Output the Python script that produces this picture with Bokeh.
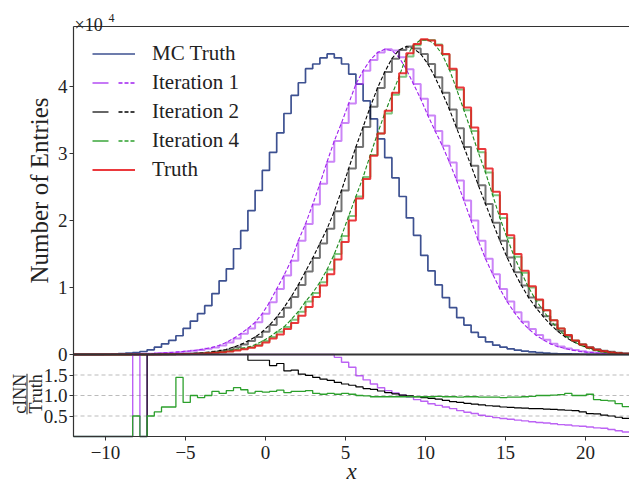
import numpy as np
from bokeh.plotting import figure
from bokeh.models import (Range1d, FixedTicker, CustomJSTickFormatter, LinearAxis, Label,
                          Legend, LegendItem, Arrow)
from bokeh.embed import file_html
from bokeh.resources import INLINE

# ---------------- data (bin contents in units of 1e4 entries) ----------------
BIN_LO = -12.35
BIN_W = 0.45

mc_truth = [0.0003, 0.0005, 0.001, 0.0015, 0.0025, 0.004, 0.007, 0.012, 0.02, 0.03,
            0.045, 0.07, 0.11, 0.16, 0.21, 0.28, 0.39, 0.50, 0.61, 0.73,
            0.91, 1.10, 1.28, 1.58, 1.85, 2.15, 2.45, 2.75, 3.02, 3.31,
            3.60, 3.87, 4.06, 4.27, 4.34, 4.43, 4.49, 4.43, 4.34, 4.19,
            4.04, 3.79, 3.52, 3.22, 2.94, 2.64, 2.36, 2.04, 1.78, 1.48,
            1.25, 1.04, 0.85, 0.70, 0.55, 0.44, 0.33, 0.26, 0.19, 0.14,
            0.11, 0.085, 0.065, 0.05, 0.038, 0.028, 0.02, 0.015, 0.011, 0.008,
            0.006, 0.004, 0.003, 0.002, 0.0015, 0.001, 0.0007, 0.0005]

iter1 = [0.0, 0.0, 0.0, 0.0005, 0.001, 0.0015, 0.002, 0.003, 0.005, 0.007,
         0.01, 0.013, 0.017, 0.022, 0.028, 0.035, 0.045, 0.055, 0.068, 0.085,
         0.105, 0.135, 0.18, 0.24, 0.31, 0.39, 0.48, 0.61, 0.78, 0.98,
         1.18, 1.40, 1.70, 1.95, 2.24, 2.55, 2.88, 3.19, 3.46, 3.75,
         4.04, 4.24, 4.40, 4.51, 4.56, 4.54, 4.44, 4.26, 4.04, 3.82,
         3.57, 3.34, 3.12, 2.87, 2.60, 2.30, 2.00, 1.70, 1.43, 1.20,
         0.98, 0.79, 0.63, 0.49, 0.38, 0.29, 0.22, 0.16, 0.12, 0.09,
         0.066, 0.048, 0.035, 0.025, 0.018, 0.012, 0.008, 0.006]

iter2 = [0.0, 0.0, 0.0, 0.0, 0.0, 0.0, 0.0, 0.0, 0.0, 0.0,
         0.0, 0.001, 0.002, 0.003, 0.005, 0.007, 0.01, 0.014, 0.02, 0.028,
         0.04, 0.055, 0.075, 0.11, 0.15, 0.20, 0.26, 0.34, 0.44, 0.56,
         0.70, 0.86, 1.04, 1.24, 1.44, 1.66, 1.88, 2.14, 2.45, 2.78,
         3.10, 3.40, 3.70, 3.98, 4.22, 4.42, 4.55, 4.60, 4.57, 4.49,
         4.34, 4.14, 3.91, 3.66, 3.38, 3.10, 2.82, 2.53, 2.25, 1.97,
         1.70, 1.45, 1.23, 1.03, 0.85, 0.70, 0.57, 0.45, 0.35, 0.27,
         0.20, 0.15, 0.11, 0.08, 0.055, 0.04, 0.028, 0.02]

iter4 = [0.0, 0.0, 0.0, 0.0, 0.0, 0.0, 0.0, 0.0, 0.0, 0.0001,
         0.0, 0.0004, 0.0007, 0.0014, 0.002, 0.006, 0.005, 0.009, 0.012, 0.018,
         0.027, 0.035, 0.05, 0.07, 0.09, 0.11, 0.145, 0.20, 0.26, 0.34,
         0.41, 0.52, 0.64, 0.79, 0.92, 1.08, 1.27, 1.50, 1.77, 2.07,
         2.36, 2.65, 2.98, 3.30, 3.60, 3.88, 4.15, 4.45, 4.62, 4.70,
         4.70, 4.63, 4.48, 4.25, 3.96, 3.65, 3.34, 3.02, 2.72, 2.38,
         2.04, 1.74, 1.46, 1.22, 1.00, 0.81, 0.66, 0.51, 0.39, 0.29,
         0.21, 0.15, 0.10, 0.065, 0.04, 0.026, 0.016, 0.009]

truth = [0.0, 0.0, 0.0, 0.0, 0.0, 0.0, 0.0, 0.0, 0.0, 0.0002,
         0.0004, 0.0008, 0.0012, 0.002, 0.003, 0.0045, 0.0065, 0.009, 0.013, 0.018,
         0.025, 0.033, 0.045, 0.06, 0.08, 0.10, 0.13, 0.18, 0.24, 0.30,
         0.38, 0.47, 0.58, 0.71, 0.86, 1.03, 1.20, 1.42, 1.68, 2.00,
         2.33, 2.62, 2.97, 3.30, 3.64, 3.91, 4.20, 4.50, 4.64, 4.71,
         4.69, 4.62, 4.49, 4.27, 3.99, 3.69, 3.39, 3.07, 2.78, 2.43,
         2.10, 1.78, 1.50, 1.25, 1.02, 0.82, 0.66, 0.51, 0.39, 0.29,
         0.21, 0.15, 0.105, 0.07, 0.047, 0.03, 0.02, 0.013]

# ratio panel (cINN / Truth); 3 = off scale (above the panel's top at 2)
ratio_iter1 = [0, 0, 0, 0, 0, 0, 0, 0, 0, 3,
               0, 3, 3, 3, 3, 3, 3, 3, 3, 3,
               3, 3, 3, 3, 3, 3, 3, 3, 3, 3,
               3, 3, 3, 3, 3, 3, 3, 1.93, 1.81, 1.69,
               1.48, 1.38, 1.28, 1.19, 1.12, 1.06, 1.01, 0.96, 0.90, 0.86,
               0.80, 0.76, 0.72, 0.68, 0.63, 0.59, 0.56, 0.52, 0.49, 0.46,
               0.44, 0.42, 0.40, 0.38, 0.36, 0.34, 0.33, 0.31, 0.29, 0.28,
               0.26, 0.25, 0.23, 0.21, 0.20, 0.17, 0.14, 0.11]

ratio_iter2 = [0, 0, 0, 0, 0, 0, 0, 0, 0, 0,
               0, 3, 3, 3, 3, 3, 3, 3, 3, 3,
               3, 3, 3, 3, 3, 1.86, 1.86, 1.86, 1.73, 1.78,
               1.60, 1.62, 1.52, 1.49, 1.44, 1.40, 1.37, 1.32, 1.28, 1.25,
               1.21, 1.17, 1.15, 1.11, 1.07, 1.04, 1.01, 0.99, 0.97, 0.95,
               0.93, 0.91, 0.88, 0.85, 0.83, 0.81, 0.79, 0.77, 0.75, 0.74,
               0.72, 0.71, 0.70, 0.69, 0.68, 0.68, 0.67, 0.66, 0.65, 0.64,
               0.63, 0.60, 0.56, 0.55, 0.52, 0.50, 0.47, 0.44]

ratio_iter4 = [0, 0, 0, 0, 0, 0, 0, 0, 0, 0.5,
               0, 0.5, 0.60, 0.72, 0.72, 1.44, 0.83, 1.00, 0.95, 1.00,
               1.10, 1.05, 1.12, 1.19, 1.14, 1.06, 1.10, 1.08, 1.10, 1.13,
               1.07, 1.10, 1.10, 1.12, 1.05, 1.03, 1.05, 1.03, 1.05, 1.03,
               1.00, 0.99, 0.97, 0.97, 0.97, 0.97, 0.97, 0.97, 0.97, 0.97,
               0.97, 0.98, 0.97, 0.97, 0.96, 0.97, 0.97, 0.96, 0.96, 0.96,
               0.95, 0.96, 0.96, 0.97, 0.98, 1.00, 1.00, 1.01, 1.02, 1.05,
               1.00, 1.00, 1.03, 0.90, 0.88, 0.87, 0.80, 0.73]

x_ticks = [-10, -5, 0, 5, 10, 15, 20]
y_ticks_top = [0, 1, 2, 3, 4]
y_ticks_ratio = [0.5, 1.0, 1.5]

# ---------------- geometry / styling ----------------
FONT = "Liberation Serif"
AX = "#333333"
TXT = "#222222"
BLUE = "#3d5191"
PURPLE = "#a020f0"
GREEN = "#2ca02c"
RED = "#e8161b"
BLACK = "#000000"

W, H = 629, 484
AX_LEFT_PX = 73          # left edge of the axes box
AX_TOP_PX = 26           # top of the upper panel
ZERO_PX = 354            # boundary between the panels
AX_BOTTOM_PX = 436       # bottom of the ratio panel

X_LO, X_HI = -12.0, 22.75
Y_MAX = 4.9
R_MAX = 2.0

px_x = (W - AX_LEFT_PX) / (X_HI - X_LO)
px_y = (ZERO_PX - AX_TOP_PX) / Y_MAX
px_r = (AX_BOTTOM_PX - ZERO_PX) / R_MAX

x_start = X_LO - AX_LEFT_PX / px_x
y_start = -(H - ZERO_PX) / px_y
y_end = ZERO_PX / px_y
r_start = -(H - AX_BOTTOM_PX) / px_r
r_end = AX_BOTTOM_PX / px_r
Y_AX_LO = -(AX_BOTTOM_PX - ZERO_PX) / px_y   # main-range value at the ratio panel bottom


def r2main(r):
    return Y_AX_LO + r * (0 - Y_AX_LO) / R_MAX


n = len(truth)
edges = np.maximum(BIN_LO + BIN_W * np.arange(n + 1), X_LO)
left = edges[:-1]


def stepy(v):
    v = list(v)
    return v + [v[-1]]


def clipr(v):
    return [min(x, R_MAX) for x in v]


p = figure(width=W, height=H, x_range=Range1d(x_start, X_HI), y_range=Range1d(y_start, y_end),
           output_backend="svg", toolbar_location=None,
           min_border_left=0, min_border_right=0, min_border_top=0, min_border_bottom=0)
p.extra_y_ranges = {"ratio": Range1d(r_start, r_end)}
p.outline_line_color = None
p.grid.visible = False
p.background_fill_color = "white"
p.border_fill_color = "white"


def style_axis(ax):
    ax.axis_line_color = AX
    ax.axis_line_width = 1.2
    ax.major_tick_line_color = AX
    ax.major_tick_out = 4
    ax.major_tick_in = 0
    ax.minor_tick_out = 0
    ax.minor_tick_in = 0
    ax.major_label_text_font = FONT
    ax.major_label_text_font_size = "19px"
    ax.major_label_text_color = TXT


xa = p.xaxis[0]
style_axis(xa)
xa.fixed_location = Y_AX_LO
xa.bounds = (X_LO, X_HI)
xa.ticker = FixedTicker(ticks=x_ticks)
xa.major_label_standoff = 5
xa.formatter = CustomJSTickFormatter(code="return tick < 0 ? '\\u2212' + (-tick) : String(tick);")

ya = p.yaxis[0]
style_axis(ya)
ya.fixed_location = X_LO
ya.bounds = (Y_AX_LO, Y_MAX)
ya.major_label_standoff = 2
ya.ticker = FixedTicker(ticks=[r2main(r) for r in y_ticks_ratio] + y_ticks_top)
ya.formatter = CustomJSTickFormatter(
    args=dict(lo=Y_AX_LO, rmax=R_MAX),
    code="if (tick < -1e-6) { return ((tick - lo) / (-lo) * rmax).toFixed(1); } return tick.toFixed(0);")


def line_axis(loc, width):
    a = LinearAxis(ticker=FixedTicker(ticks=[]), fixed_location=loc, bounds=(X_LO, X_HI))
    a.axis_line_color = AX
    a.axis_line_width = width
    a.major_tick_out = 0
    a.major_tick_in = 0
    a.minor_tick_out = 0
    a.minor_tick_in = 0
    a.major_label_text_font_size = "0px"
    a.major_label_standoff = 0
    return a


p.add_layout(line_axis(Y_MAX, 1.2), "above")     # top edge of the upper panel
p.add_layout(line_axis(0, 2.0), "below")         # boundary between the panels

# ratio grid lines
p.segment(x0=[X_LO] * len(y_ticks_ratio), x1=[X_HI] * len(y_ticks_ratio),
          y0=y_ticks_ratio, y1=y_ticks_ratio, y_range_name="ratio",
          line_color="#bbbbbb", line_dash="4 3", line_width=1, level="underlay")

# ---------------- top panel histograms ----------------
r_mc = p.step(edges, stepy(mc_truth), mode="after", line_color=BLUE, line_width=1.7)
p.step(edges, stepy(iter1), mode="after", line_color=PURPLE, line_width=2, line_alpha=0.55)
p.line(left, iter1, line_color=PURPLE, line_width=1.1, line_dash="4 2")
p.step(edges, stepy(iter2), mode="after", line_color=BLACK, line_width=2, line_alpha=0.55)
p.line(left, iter2, line_color=BLACK, line_width=1.1, line_dash="4 2")
p.step(edges, stepy(iter4), mode="after", line_color=GREEN, line_width=2, line_alpha=0.6)
p.line(left, iter4, line_color="#1c8a1c", line_width=1.1, line_dash="4 2")
r_t = p.step(edges, stepy(truth), mode="after", line_color=RED, line_width=2, line_alpha=0.85)

# ---------------- ratio panel ----------------
p.step(edges, stepy(clipr(ratio_iter1)), mode="after", y_range_name="ratio",
       line_color=PURPLE, line_width=1.4, line_alpha=0.7)
p.step(edges, stepy(clipr(ratio_iter2)), mode="after", y_range_name="ratio",
       line_color=BLACK, line_width=1.2)
p.step(edges, stepy(clipr(ratio_iter4)), mode="after", y_range_name="ratio",
       line_color=GREEN, line_width=1.3)

# ---------------- legend ----------------
NANS = np.array([np.nan])


def handles(color, alpha):
    a = p.line(NANS, NANS, line_color=color, line_width=2, line_alpha=alpha, line_dash="16 100")
    b = p.line(NANS, NANS, line_color=color, line_width=1.3, line_dash="0 26 4 2 4 2 4 100")
    return [a, b]


items = [
    LegendItem(label="MC Truth", renderers=[r_mc]),
    LegendItem(label="Iteration 1", renderers=handles(PURPLE, 0.6)),
    LegendItem(label="Iteration 2", renderers=handles(BLACK, 0.6)),
    LegendItem(label="Iteration 4", renderers=handles(GREEN, 0.7)),
    LegendItem(label="Truth", renderers=[r_t]),
]
ROW = 29
leg = Legend(items=items, location=(AX_LEFT_PX + 19, H - 39 - 5 * ROW), padding=0, margin=0,
             spacing=0, glyph_width=43, glyph_height=ROW, label_height=ROW, label_standoff=17,
             border_line_color=None, background_fill_alpha=0,
             label_text_font=FONT, label_text_font_size="21px", label_text_color=TXT)
p.add_layout(leg)

# ---------------- texts ----------------
p.add_layout(Label(x=X_LO, y=Y_MAX, x_offset=1, y_offset=2, text="\u00d710",
                   text_font=FONT, text_font_size="18px", text_color=TXT,
                   text_baseline="alphabetic", text_align="left"))
p.add_layout(Label(x=X_LO, y=Y_MAX, x_offset=35, y_offset=9, text="4",
                   text_font=FONT, text_font_size="12px", text_color=TXT,
                   text_baseline="alphabetic", text_align="left"))

p.add_layout(Label(x=X_LO, y=Y_MAX / 2, x_offset=-34, text="Number of Entries",
                   angle=np.pi / 2, text_font=FONT, text_font_size="25px", text_color=TXT,
                   text_align="center", text_baseline="middle"))

ry = r2main(1.04)
p.add_layout(Label(x=X_LO, y=ry, x_offset=-54, text="cINN", angle=np.pi / 2,
                   text_font=FONT, text_font_size="18px", text_color=TXT,
                   text_align="center", text_baseline="middle"))
p.add_layout(Label(x=X_LO, y=ry, x_offset=-38, text="Truth", angle=np.pi / 2,
                   text_font=FONT, text_font_size="18px", text_color=TXT,
                   text_align="center", text_baseline="middle"))
bar_x = X_LO - 46.5 / px_x
p.add_layout(Arrow(end=None, x_start=bar_x, y_start=r2main(0.54), x_end=bar_x,
                   y_end=r2main(1.53), line_color=TXT, line_width=1))

p.add_layout(Label(x=(X_LO + X_HI) / 2, y=Y_AX_LO, y_offset=-35, text="x", text_font=FONT,
                   text_font_style="italic", text_font_size="23px", text_color=TXT,
                   text_align="center", text_baseline="middle"))

open("out.html", "w").write(file_html(p, INLINE))
